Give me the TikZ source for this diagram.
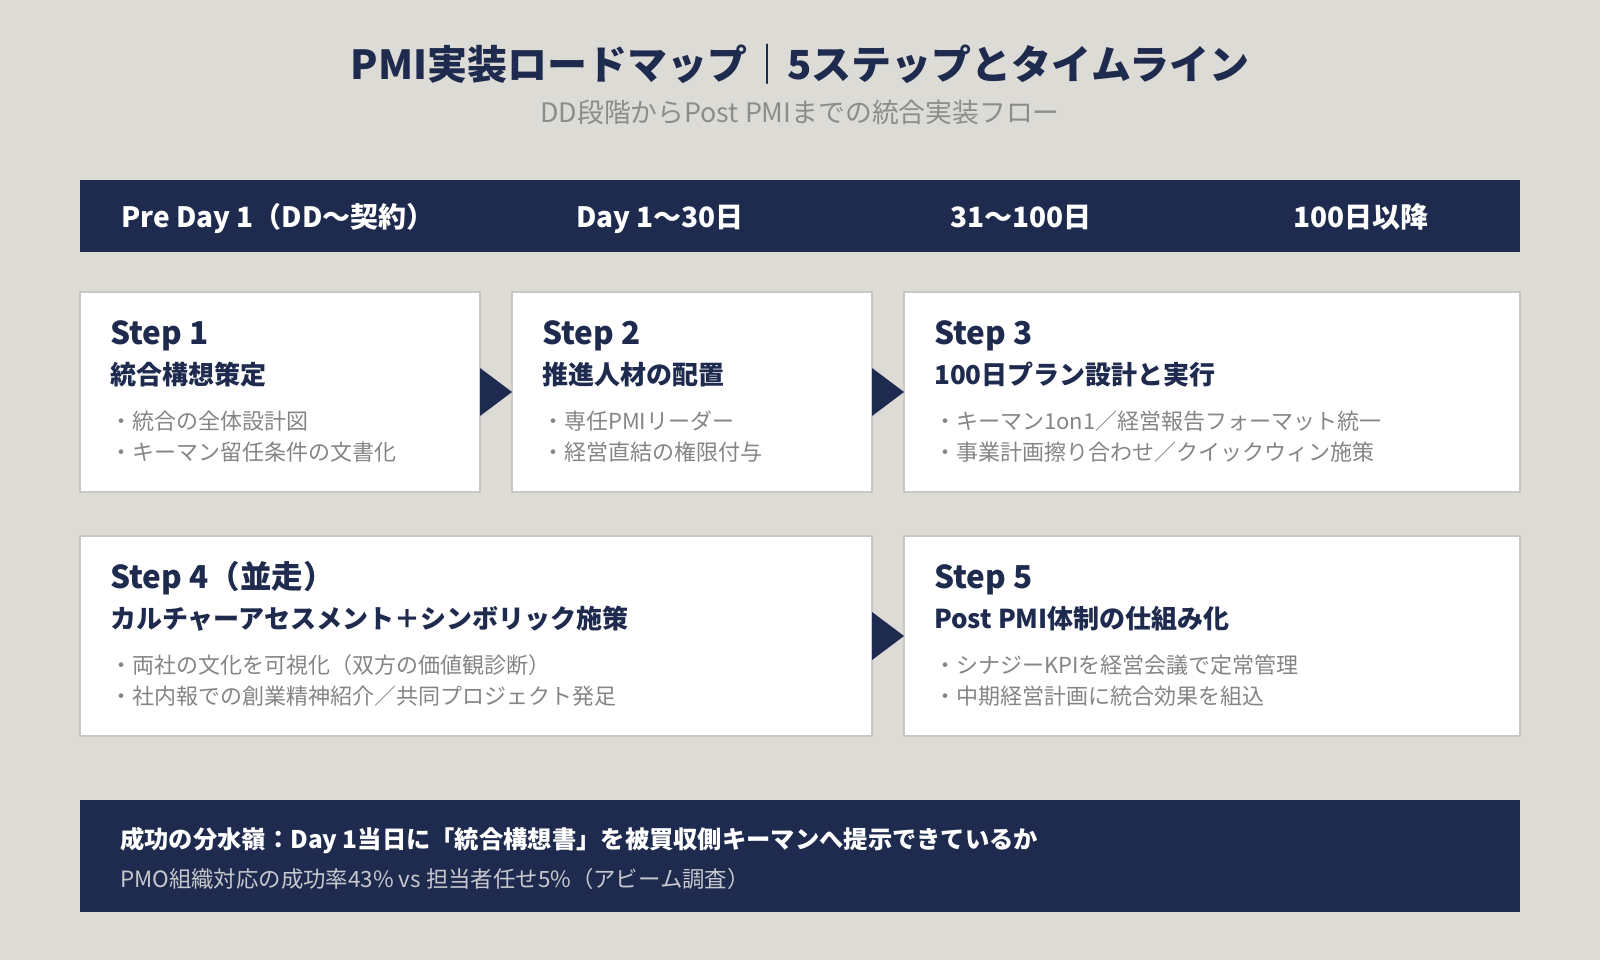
\documentclass[tikz,border=0pt]{standalone}
\usepackage{fontspec}
\setmainfont{Noto Sans CJK JP}
\usetikzlibrary{calc}
\definecolor{bg}{HTML}{DCDBD6}
\definecolor{navy}{HTML}{1F2B4E}
\definecolor{bordergray}{HTML}{C8C7C2}
\definecolor{txtgray}{HTML}{858585}
\definecolor{subgray}{HTML}{8C8C8C}
\definecolor{lightline}{HTML}{C6C8CE}
\begin{document}
\begin{tikzpicture}[x=1pt,y=-1pt,
  stepbox/.style={draw=bordergray, line width=2pt, fill=white, anchor=north west, inner sep=0pt, outer sep=0pt},
  bar/.style={fill=navy, anchor=north west, inner sep=0pt, outer sep=0pt},
  steplabel/.style={anchor=base west, inner sep=0pt, text=navy, font=\bfseries\fontsize{31.5}{36}\selectfont},
  steptitle/.style={anchor=base west, inner sep=0pt, text=navy, font=\bfseries\fontsize{26}{30}\selectfont},
  bullet/.style={anchor=base west, inner sep=0pt, text=txtgray, font=\fontsize{22}{26}\selectfont},
  hdrtext/.style={anchor=base, inner sep=0pt, text=white, font=\bfseries\fontsize{28}{32}\selectfont},
  flowtip/.style={fill=navy}
]
\fill[bg] (0,0) rectangle (1600,960);
\useasboundingbox (0,0) rectangle (1600,960);

% title
\node[anchor=base, inner sep=0pt, text=navy, font=\bfseries\fontsize{40}{48}\selectfont] (title) at (800,80) {PMI実装ロードマップ｜5ステップとタイムライン};
\node[anchor=base, inner sep=0pt, text=subgray, font=\fontsize{26.8}{30}\selectfont] (subtitle) at (800,123) {DD段階からPost PMIまでの統合実装フロー};

% header bar
\node[bar, minimum width=1440pt, minimum height=72pt] (hdr) at (80,180) {};
\node[hdrtext] (h1) at (278,227) {Pre Day 1（DD〜契約）};
\node[hdrtext] (h2) at (660,227) {Day 1〜30日};
\node[hdrtext] (h3) at (1021,227) {31〜100日};
\node[hdrtext] (h4) at (1361,227) {100日以降};

% step boxes
\node[stepbox, minimum width=400pt, minimum height=200pt] (s1) at (80,292) {};
\node[stepbox, minimum width=360pt, minimum height=200pt] (s2) at (512,292) {};
\node[stepbox, minimum width=616pt, minimum height=200pt] (s3) at (904,292) {};
\node[stepbox, minimum width=792pt, minimum height=200pt] (s4) at (80,536) {};
\node[stepbox, minimum width=616pt, minimum height=200pt] (s5) at (904,536) {};

% connectors (triangles)
\fill[flowtip] ($(s1.east)+(0,-24)$) -- ($(s1.east)+(0,24)$) -- (s2.west) -- cycle;
\fill[flowtip] ($(s2.east)+(0,-24)$) -- ($(s2.east)+(0,24)$) -- (s3.west) -- cycle;
\fill[flowtip] ($(s4.east)+(0,-24)$) -- ($(s4.east)+(0,24)$) -- (s5.west) -- cycle;

% step 1
\node[steplabel] (s1a) at ($(s1.north west)+(30,52)$) {Step 1};
\node[steptitle] (s1b) at ($(s1.north west)+(30,92)$) {統合構想策定};
\node[bullet] (s1c) at ($(s1.north west)+(30,137)$) {・統合の全体設計図};
\node[bullet] (s1d) at ($(s1.north west)+(30,168)$) {・キーマン留任条件の文書化};

% step 2
\node[steplabel] (s2a) at ($(s2.north west)+(30,52)$) {Step 2};
\node[steptitle] (s2b) at ($(s2.north west)+(30,92)$) {推進人材の配置};
\node[bullet] (s2c) at ($(s2.north west)+(30,137)$) {・専任PMIリーダー};
\node[bullet] (s2d) at ($(s2.north west)+(30,168)$) {・経営直結の権限付与};

% step 3
\node[steplabel] (s3a) at ($(s3.north west)+(30,52)$) {Step 3};
\node[steptitle] (s3b) at ($(s3.north west)+(30,92)$) {100日プラン設計と実行};
\node[bullet] (s3c) at ($(s3.north west)+(30,137)$) {・キーマン1on1／経営報告フォーマット統一};
\node[bullet] (s3d) at ($(s3.north west)+(30,168)$) {・事業計画擦り合わせ／クイックウィン施策};

% step 4
\node[steplabel] (s4a) at ($(s4.north west)+(30,52)$) {Step 4（並走）};
\node[steptitle] (s4b) at ($(s4.north west)+(30,92)$) {カルチャーアセスメント＋シンボリック施策};
\node[bullet] (s4c) at ($(s4.north west)+(30,137)$) {・両社の文化を可視化（双方の価値観診断）};
\node[bullet] (s4d) at ($(s4.north west)+(30,168)$) {・社内報での創業精神紹介／共同プロジェクト発足};

% step 5
\node[steplabel] (s5a) at ($(s5.north west)+(30,52)$) {Step 5};
\node[steptitle] (s5b) at ($(s5.north west)+(30,92)$) {Post PMI体制の仕組み化};
\node[bullet] (s5c) at ($(s5.north west)+(30,137)$) {・シナジーKPIを経営会議で定常管理};
\node[bullet] (s5d) at ($(s5.north west)+(30,168)$) {・中期経営計画に統合効果を組込};

% bottom bar
\node[bar, minimum width=1440pt, minimum height=112pt] (note) at (80,800) {};
\node[anchor=base west, inner sep=0pt, text=white, font=\bfseries\fontsize{24.3}{30}\selectfont] (n1) at ($(note.north west)+(40,48)$) {成功の分水嶺：Day 1当日に「統合構想書」を被買収側キーマンへ提示できているか};
\node[anchor=base west, inner sep=0pt, text=lightline, font=\fontsize{22.4}{26}\selectfont] (n2) at ($(note.north west)+(40,87)$) {PMO組織対応の成功率43\% vs 担当者任せ5\%（アビーム調査）};
\end{tikzpicture}
\end{document}
